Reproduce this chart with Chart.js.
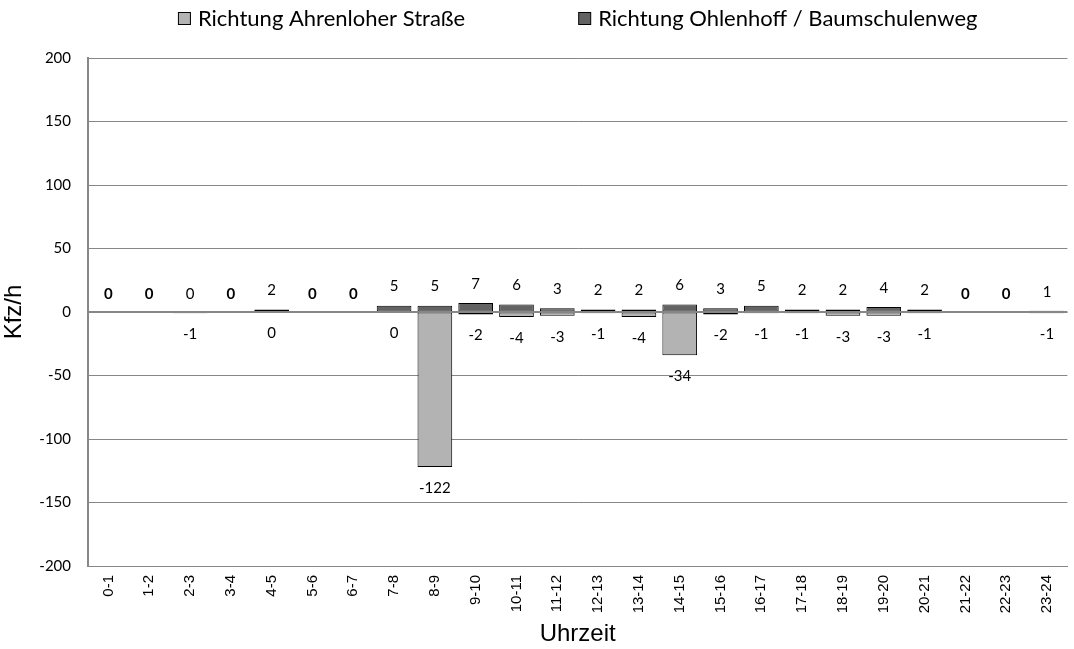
<!DOCTYPE html>
<html>
<head>
<meta charset="utf-8">
<script src="https://cdn.jsdelivr.net/npm/chart.js@4"></script>
<style>
html,body{margin:0;padding:0;background:#fff;}
#wrap{width:1074px;height:649px;}
</style>
</head>
<body>
<div id="wrap"><canvas id="c" width="1074" height="649"></canvas></div>
<script>
const categories = ["0-1","1-2","2-3","3-4","4-5","5-6","6-7","7-8","8-9","9-10","10-11","11-12","12-13","13-14","14-15","15-16","16-17","17-18","18-19","19-20","20-21","21-22","22-23","23-24"];
const ahrenloher = [0,0,-1,0,0,0,0,0,-122,-2,-4,-3,-1,-4,-34,-2,-1,-1,-3,-3,-1,0,0,-1];
const ohlenhoff  = [0,0,0,0,2,0,0,5,5,7,6,3,2,2,6,3,5,2,2,4,2,0,0,1];
const seriesNames = ["Richtung Ahrenloher Straße","Richtung Ohlenhoff / Baumschulenweg"];
const yTicks = {min:-200, max:200, step:50};

const LIGHT = "#b3b3b3", DARK = "#636363", GRID = "#878787";
const ARIAL = "'Liberation Sans', Arial, sans-serif";

const zeroLine = {
  id:'zeroLine',
  afterDatasetsDraw(chart){
    const {ctx, chartArea:a, scales:{y}} = chart;
    const py = Math.round(y.getPixelForValue(0));
    ctx.save();
    ctx.strokeStyle = GRID; ctx.lineWidth = 2;
    ctx.beginPath(); ctx.moveTo(a.left, py); ctx.lineTo(a.right, py); ctx.stroke();
    ctx.restore();
  }
};

const valueLabels = {
  id:'valueLabels',
  afterDatasetsDraw(chart){
    const ctx = chart.ctx;
    const mL = chart.getDatasetMeta(0), mD = chart.getDatasetMeta(1);
    ctx.save();
    ctx.fillStyle = "#000";
    ctx.textAlign = "center"; ctx.textBaseline = "middle";
    categories.forEach((c,i)=>{
      const bl = mL.data[i], bd = mD.data[i];
      const vL = ahrenloher[i], vD = ohlenhoff[i];
      if (vL === 0 && vD === 0){
        ctx.font = "bold 15px Lato";
        ctx.fillText("0", bd.x, bd.y - 18);
        return;
      }
      ctx.font = "15px Lato";
      ctx.fillText(String(vD), bd.x, bd.y - 19);
      ctx.fillText(String(vL), bl.x, bl.y + 21);
    });
    ctx.restore();
  }
};

const customLegend = {
  id:'customLegend',
  afterDraw(chart){
    const ctx = chart.ctx, a = chart.chartArea;
    ctx.save();
    ctx.font = "22px Lato";
    ctx.textBaseline = "middle"; ctx.textAlign = "left";
    const box = 12, gapBox = 8, gap = 113;
    const items = chart.data.datasets.map(ds => ({text: ds.label, color: ds.backgroundColor, w: box + gapBox + ctx.measureText(ds.label).width}));
    const total = items.reduce((s,it)=>s+it.w,0) + gap*(items.length-1);
    let x = (a.left + a.right)/2 - total/2;
    const yc = 18;
    items.forEach(it=>{
      ctx.fillStyle = it.color;
      ctx.fillRect(x+0.5, yc-box/2+0.5, box, box);
      ctx.strokeStyle = "#000"; ctx.lineWidth = 1;
      ctx.strokeRect(x+0.5, yc-box/2+0.5, box, box);
      ctx.fillStyle = "#000";
      ctx.fillText(it.text, x + box + gapBox, yc + 1);
      x += it.w + gap;
    });
    ctx.restore();
  }
};

new Chart(document.getElementById('c'), {
  type:'bar',
  data:{
    labels: categories,
    datasets:[
      {label: seriesNames[0], data: ahrenloher, backgroundColor: LIGHT, borderColor:"#000", borderWidth:1, borderSkipped:false, barPercentage:0.85, categoryPercentage:1},
      {label: seriesNames[1], data: ohlenhoff, backgroundColor: DARK, borderColor:"#000", borderWidth:1, borderSkipped:false, barPercentage:0.85, categoryPercentage:1}
    ]
  },
  options:{
    responsive:false,
    animation:false,
    layout:{padding:{top:58,right:0,bottom:0,left:0}},
    plugins:{legend:{display:false}, tooltip:{enabled:false}},
    scales:{
      x:{
        stacked:true,
        grid:{display:false, drawTicks:false},
        border:{display:true, color:GRID, width:1},
        ticks:{font:{family:ARIAL, size:15}, color:"#000", minRotation:90, maxRotation:90, padding:9, autoSkip:false},
        title:{display:true, text:"Uhrzeit", font:{family:ARIAL, size:24}, color:"#000", padding:{top:0,bottom:0}},
        afterFit(s){ s.height = 83; }
      },
      y:{
        stacked:true,
        min:yTicks.min, max:yTicks.max,
        grid:{color:GRID, lineWidth:1, drawTicks:false},
        border:{display:true, color:GRID, width:2},
        ticks:{stepSize:yTicks.step, font:{family:"Lato", size:15}, color:"#000", padding:17},
        title:{display:true, text:"Kfz/h", font:{family:ARIAL, size:24}, color:"#000", padding:{top:0,bottom:0}},
        afterFit(s){ s.width = 88; }
      }
    }
  },
  plugins:[zeroLine, valueLabels, customLegend]
});
</script>
</body>
</html>
